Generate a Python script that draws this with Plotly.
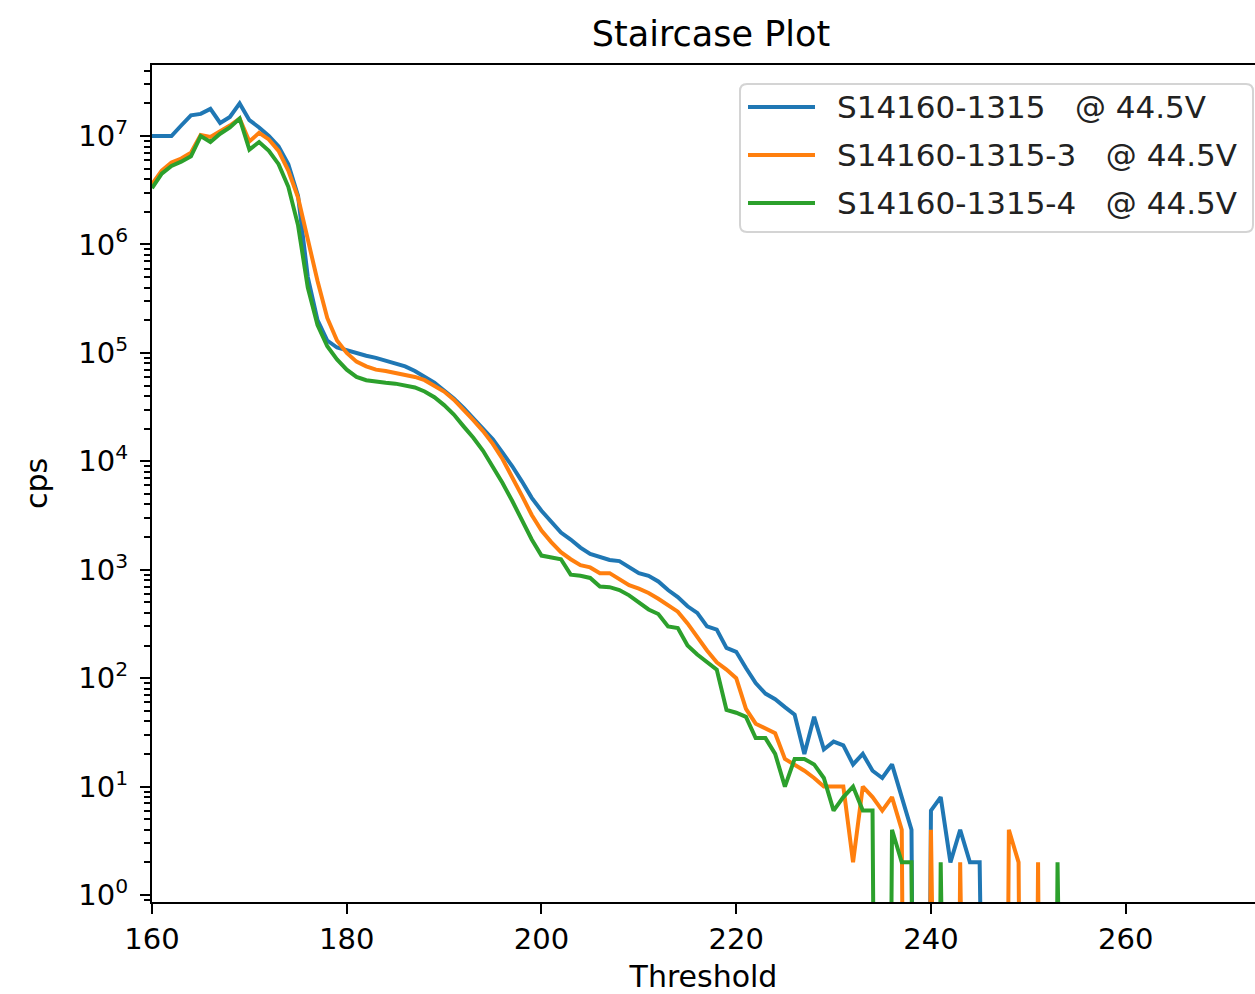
import re
import plotly.graph_objects as go

# Discriminator threshold (DAC units), one step per point
threshold = list(range(160, 256))

# Dark-count rate in counts per second for each SiPM at 44.5 V
cps_1315 = [
    1.0e7, 1.0e7, 1.0e7, 1.25e7, 1.55e7, 1.6e7, 1.78e7, 1.32e7, 1.5e7, 2.0e7,
    1.4e7, 1.2e7, 1.0e7, 8.0e6, 5.5e6, 2.8e6, 5.0e5, 2.0e5, 1.3e5, 1.12e5,
    1.05e5, 1.0e5, 9.4e4, 9.0e4, 8.5e4, 8.0e4, 7.5e4, 6.8e4, 6.0e4, 5.3e4,
    4.5e4, 3.8e4, 3.1e4, 2.5e4, 2.0e4, 1.6e4, 1.2e4, 9.0e3, 6.5e3, 4.6e3,
    3.5e3, 2.8e3, 2.2e3, 1.9e3, 1.6e3, 1.4e3, 1.3e3, 1.23e3, 1.2e3, 1.05e3,
    930, 880, 780, 650, 560, 460, 400, 300, 280, 190,
    175, 124, 90, 72, 64, 54, 46, 20, 44, 22,
    26, 24, 16, 20, 14, 12, 16, 8, 4, 0,
    6, 8, 2, 4, 2, 2, 0, 0, 0, 0,
    0, 0, 0, 0, 0, 0,
]
cps_1315_3 = [
    3.6e6, 4.8e6, 5.7e6, 6.2e6, 7.0e6, 1.02e7, 9.8e6, 1.1e7, 1.25e7, 1.45e7,
    8.9e6, 1.07e7, 9.3e6, 7.3e6, 4.8e6, 2.7e6, 1.1e6, 4.6e5, 2.1e5, 1.3e5,
    1.0e5, 8.3e4, 7.5e4, 7.0e4, 6.8e4, 6.5e4, 6.3e4, 6.0e4, 5.6e4, 5.0e4,
    4.4e4, 3.7e4, 3.0e4, 2.4e4, 1.9e4, 1.45e4, 1.05e4, 7.2e3, 4.8e3, 3.2e3,
    2.3e3, 1.8e3, 1.45e3, 1.25e3, 1.1e3, 1.05e3, 930, 930, 820, 720,
    670, 610, 540, 470, 410, 320, 240, 180, 140, 120,
    100, 52, 38, 34, 31, 18, 16, 14, 12, 10,
    10, 10, 2, 10, 8, 6, 8, 4, 0, 0,
    4, 0, 0, 2, 0, 0, 0, 0, 4, 2,
    0, 2, 0, 0, 0, 0,
]
cps_1315_4 = [
    3.3e6, 4.5e6, 5.3e6, 5.8e6, 6.5e6, 1.0e7, 8.8e6, 1.05e7, 1.2e7, 1.45e7,
    7.5e6, 8.8e6, 7.3e6, 5.5e6, 3.4e6, 1.5e6, 4.0e5, 1.8e5, 1.15e5, 8.7e4,
    7.0e4, 6.0e4, 5.6e4, 5.4e4, 5.3e4, 5.2e4, 5.0e4, 4.8e4, 4.4e4, 3.9e4,
    3.3e4, 2.7e4, 2.1e4, 1.65e4, 1.25e4, 9.0e3, 6.3e3, 4.3e3, 2.8e3, 1.9e3,
    1.35e3, 1.3e3, 1.25e3, 900, 880, 840, 700, 690, 650, 580,
    500, 430, 390, 300, 290, 200, 165, 140, 120, 51,
    48, 44, 28, 28, 20, 10, 18, 18, 16, 12,
    6, 8, 10, 6, 6, 0, 4, 2, 2, 0,
    0, 2, 0, 0, 0, 0, 0, 0, 0, 0,
    0, 0, 0, 2, 0, 0,
]

labels = ["S14160-1315   @ 44.5V", "S14160-1315-3   @ 44.5V", "S14160-1315-4   @ 44.5V"]
colors = ["#1f77b4", "#ff7f0e", "#2ca02c"]
x_ticks = [160, 180, 200, 220, 240, 260]
y_exponents = list(range(0, 8))

FONT = "DejaVu Sans"
W, H = 1255, 994
L, R, T, B = 152, 1255, 65, 902  # plot-area edges in pixels

# zero counts cannot sit on a log axis: send them far below the visible range
FLOOR = 1e-12

fig = go.Figure()
for series, name, color in zip([cps_1315, cps_1315_3, cps_1315_4], labels, colors):
    fig.add_trace(go.Scatter(
        x=threshold,
        y=[v if v > 0 else FLOOR for v in series],
        mode="lines",
        name=name,
        line=dict(color=color, width=4),
        showlegend=False,
    ))

minor_vals = [m * 10 ** e for e in range(-1, 8) for m in range(2, 10)]

fig.update_layout(
    width=W, height=H,
    margin=dict(l=L, r=W - R, t=T, b=H - B, pad=0),
    paper_bgcolor="white", plot_bgcolor="white",
    font=dict(family=FONT, size=29, color="black"),
    title=dict(text="Staircase Plot", x=711 / W, xref="container", xanchor="center",
               y=1 - 34 / H, yref="container", yanchor="middle",
               font=dict(family=FONT, size=35, color="black")),
    xaxis=dict(
        range=[160, 160 + (R - L) / 9.737],
        tickmode="array", tickvals=x_ticks, ticktext=[str(v) for v in x_ticks],
        ticks="outside", ticklen=10, tickwidth=2.3, tickcolor="black",
        showline=True, linecolor="black", linewidth=2.3, mirror=True,
        showgrid=False, zeroline=False, automargin=False,
        title=dict(text="Threshold", standoff=17, font=dict(family=FONT, size=30)),
        tickfont=dict(family=FONT, size=29),
    ),
    yaxis=dict(
        type="log",
        range=[-0.0646, 7.655],
        tickmode="array",
        tickvals=[10 ** e for e in y_exponents],
        ticktext=[f"10<sup>{e}</sup>" for e in y_exponents],
        ticks="outside", ticklen=10, tickwidth=2.3, tickcolor="black",
        ticklabelstandoff=6,
        minor=dict(tickmode="array", tickvals=minor_vals, ticks="outside",
                   ticklen=6, tickwidth=1.7, tickcolor="black", showgrid=False),
        showline=True, linecolor="black", linewidth=2.3, mirror=False,
        showgrid=False, zeroline=False, automargin=False,
        title=dict(text="cps", standoff=22, font=dict(family=FONT, size=30)),
        tickfont=dict(family=FONT, size=29),
    ),
)


def px_x(px):
    return (px - L) / (R - L)


def px_y(py):
    return (B - py) / (B - T)


def _to_domain(m):
    return f"{px_x(float(m.group(1))):.5f},{px_y(float(m.group(2))):.5f}"


# legend frame with rounded corners, laid out in pixels then mapped to the axes domain
x0, x1, y0, y1, r = 740, 1253, 84, 232, 7
frame = (f"M {x0 + r},{y0} L {x1 - r},{y0} Q {x1},{y0} {x1},{y0 + r} "
         f"L {x1},{y1 - r} Q {x1},{y1} {x1 - r},{y1} L {x0 + r},{y1} "
         f"Q {x0},{y1} {x0},{y1 - r} L {x0},{y0 + r} Q {x0},{y0} {x0 + r},{y0} Z")
fig.add_shape(type="path", path=re.sub(r"([\d.]+),([\d.]+)", _to_domain, frame),
              xref="x domain", yref="y domain",
              line=dict(color="#d4d4d4", width=2), fillcolor="rgba(255,255,255,0.8)",
              layer="above")

row_y = [107, 155, 203]
for name, color, ry in zip(labels, colors, row_y):
    fig.add_shape(type="line", xref="x domain", yref="y domain",
                  x0=px_x(748), x1=px_x(815), y0=px_y(ry), y1=px_y(ry),
                  line=dict(color=color, width=4), layer="above")
    fig.add_annotation(text=name.replace(" ", "\u00a0"), xref="x domain", yref="y domain",
                       x=px_x(835), y=px_y(ry), xanchor="left", yanchor="middle",
                       showarrow=False, font=dict(family=FONT, size=31, color="#222222"))

fig.write_html("out.html")
